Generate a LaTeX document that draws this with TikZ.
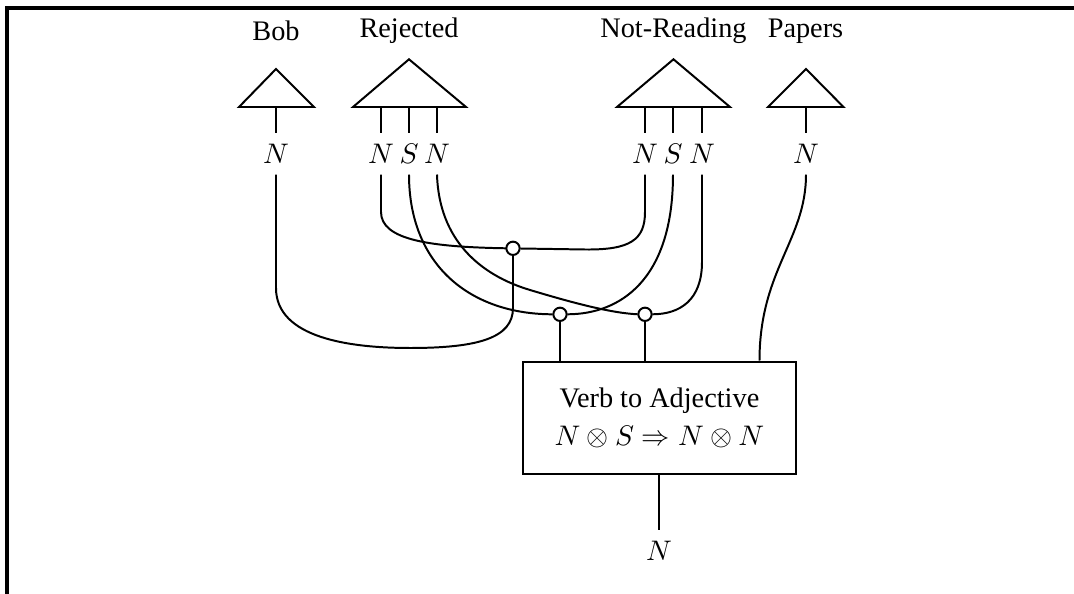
\documentclass[tikz,border=0pt]{standalone}
\usepackage{fontspec}
\setmainfont{Liberation Serif}
\begin{document}
\begin{tikzpicture}[x=0.3534pt,y=-0.3534pt,line width=0.7pt,
  wordlab/.style={anchor=base,inner sep=0pt},
  typelab/.style={inner sep=0pt,minimum height=13.8pt},
  spider/.style={circle,draw,fill=white,inner sep=0pt,minimum size=4.7pt,line width=0.7pt},
  mapbox/.style={draw,line width=0.7pt,minimum width=96.7pt,minimum height=39.7pt,align=center,inner sep=0pt},
  frameline/.style={line width=1.1pt}]
\useasboundingbox (0,0) rectangle (1074,594);
% frame (top and left edges)
\draw[frameline] (7,610) -- (7,8) -- (1090,8);
% word labels
\node[wordlab] (wBob) at (276,40.7) {Bob};
\node[wordlab] (wRej) at (409,37.5) {Rejected};
\node[wordlab] (wNR) at (673.5,37.5) {Not-Reading};
\node[wordlab] (wPap) at (805.5,37.5) {Papers};
% triangles
\draw (239,107) -- (276,69) -- (314,107) -- cycle;
\draw (353,107) -- (409,59.3) -- (466,107) -- cycle;
\draw (617,107) -- (673.5,59.3) -- (730,107) -- cycle;
\draw (768,107) -- (806,69) -- (843.5,107) -- cycle;
% leg roots
\coordinate (tb) at (276,107);
\coordinate (tr1) at (381,107);
\coordinate (trS) at (409,107);
\coordinate (tr2) at (437,107);
\coordinate (tn1) at (645,107);
\coordinate (tnS) at (673,107);
\coordinate (tn2) at (702,107);
\coordinate (tp) at (806,107);
% type labels
\node[typelab] (bN) at (276,154) {$N$};
\node[typelab] (r1N) at (381,154) {$N$};
\node[typelab] (rSN) at (409,154) {$S$};
\node[typelab] (r2N) at (437,154) {$N$};
\node[typelab] (n1N) at (645,154) {$N$};
\node[typelab] (nSN) at (673,154) {$S$};
\node[typelab] (n2N) at (702,154) {$N$};
\node[typelab] (pN) at (806,154) {$N$};
% legs
\draw (tb) -- (bN.north);
\draw (tr1) -- (r1N.north);
\draw (trS) -- (rSN.north);
\draw (tr2) -- (r2N.north);
\draw (tn1) -- (n1N.north);
\draw (tnS) -- (nSN.north);
\draw (tn2) -- (n2N.north);
\draw (tp) -- (pN.north);
% box
\node[mapbox] (vb) at (659.5,417.9) {Verb to Adjective\\[1.5pt]$N\otimes S\Rightarrow N\otimes N$};
\node[typelab] (outN) at (659,551) {$N$};
\coordinate (pin) at (759.5,300);
\coordinate (outtop) at (659,474);
% wires (drawn before spiders so spiders cover them)
\draw (bN.south) -- (276,288) .. controls (276,338) and (350,348) .. (410,348)
      .. controls (478,348) and (513,338) .. (513,308) -- (513,256);
\draw (r1N.south) -- (381,212) .. controls (381,240) and (430,247) .. (506,248.3);
\draw (520.3,248.5) -- (585,249.5) .. controls (630,250) and (645,240) .. (645,212) -- (n1N.south);
\draw (rSN.south) .. controls (409,265) and (470,314.3) .. (552.7,314.3);
\draw (r2N.south) .. controls (439,240) and (480,275) .. (530,290)
      .. controls (570,302) and (610,313) .. (637.7,314.3);
\draw (nSN.south) .. controls (673,280) and (620,314.3) .. (567.3,314.3);
\draw (n2N.south) -- (702,262) .. controls (702,300) and (680,314.3) .. (652.3,314.3);
\draw (pN.south) .. controls (806,240) and (759.5,270) .. (vb.north -| pin);
% spiders
\node[spider] (A) at (513,248.3) {};
\node[spider] (B) at (560,314.3) {};
\node[spider] (C) at (645,314.3) {};
\draw (B.south) -- (B |- vb.north);
\draw (C.south) -- (C |- vb.north);
\draw (vb.south -| outtop) -- (outN.north);
\end{tikzpicture}
\end{document}
